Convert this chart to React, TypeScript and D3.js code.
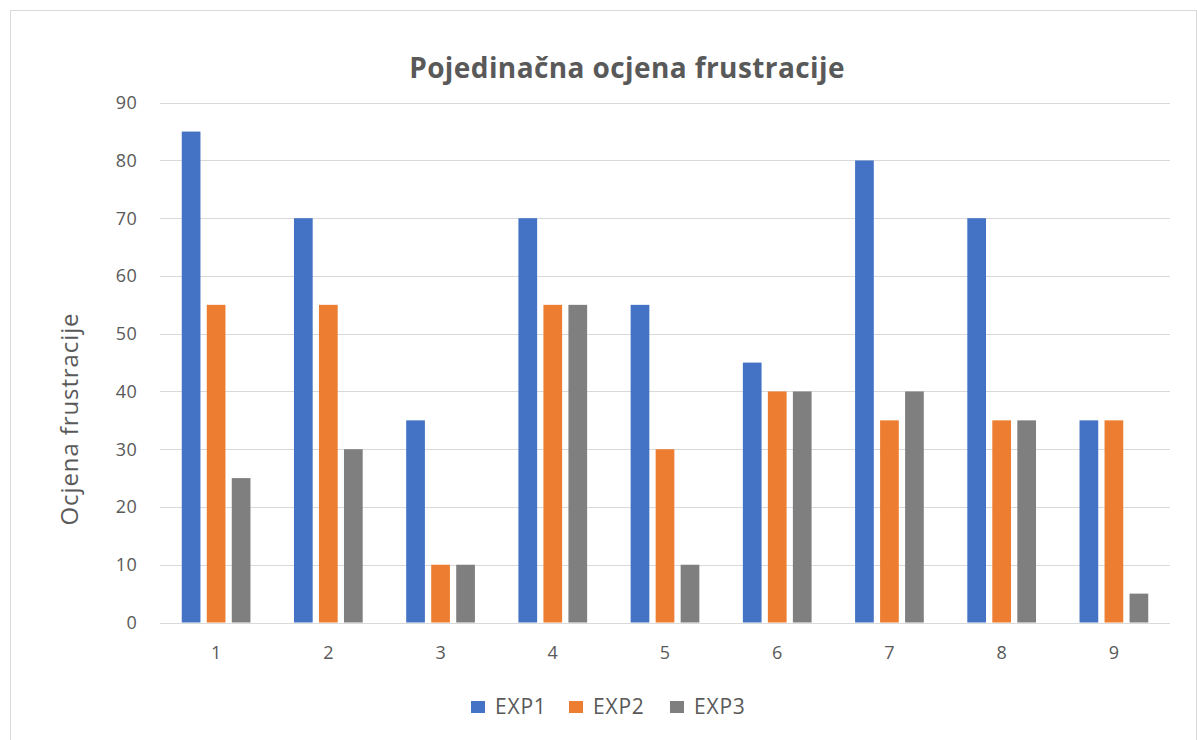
import React from 'react';
import { scaleBand, scaleLinear } from 'd3';

const categories = ['1', '2', '3', '4', '5', '6', '7', '8', '9'];
const seriesNames = ['EXP1', 'EXP2', 'EXP3'];
const exp1 = [85, 70, 35, 70, 55, 45, 80, 70, 35];
const exp2 = [55, 55, 10, 55, 30, 40, 35, 35, 35];
const exp3 = [25, 30, 10, 55, 10, 40, 40, 35, 5];
const yTicks = [0, 10, 20, 30, 40, 50, 60, 70, 80, 90];
const colors = ['#4472C4', '#ED7D31', '#7F7F7F'];

const W = 1197;
const H = 740;
const FONT = '"Open Sans", "Noto Sans", sans-serif';

const App = () => {
  const seriesValues = [exp1, exp2, exp3];

  const xScale = scaleBand().domain(categories).range([160, 1170]).padding(0);
  const inner = scaleBand()
    .domain(seriesNames)
    .range([0, xScale.bandwidth()])
    .paddingInner(0.252)
    .paddingOuter(0.87);
  const yScale = scaleLinear().domain([0, 90]).range([622.5, 102.7]);

  const legendX = [471, 569, 670];

  return (
    <svg
      width={W}
      height={H}
      style={{ position: 'absolute', left: 0, top: 0, background: '#fff' }}
      fontFamily={FONT}
    >
      <rect x={10.5} y={10.5} width={1186} height={740} fill="#fff" stroke="#d9d9d9" />

      <text
        x={627}
        y={78}
        textAnchor="middle"
        fontSize={28}
        letterSpacing={0.4}
        fontWeight="bold"
        fill="#595959"
      >
        Pojedinačna ocjena frustracije
      </text>

      {/* grid + y labels */}
      {yTicks.map((t) => (
        <g key={t}>
          <line
            x1={160}
            x2={1170}
            y1={Math.round(yScale(t)) + 0.5}
            y2={Math.round(yScale(t)) + 0.5}
            stroke="#d9d9d9"
            strokeWidth={1}
          />
          <text
            x={137}
            y={yScale(t)}
            dy="0.35em"
            textAnchor="end"
            fontSize={18}
            letterSpacing={0.3}
            fill="#595959"
          >
            {t}
          </text>
        </g>
      ))}

      {/* bars */}
      {categories.map((c, i) => (
        <g key={c} transform={`translate(${xScale(c)},0)`}>
          {seriesNames.map((s, j) => (
            <rect
              key={s}
              x={inner(s)}
              width={inner.bandwidth()}
              y={yScale(seriesValues[j][i])}
              height={yScale(0) - yScale(seriesValues[j][i])}
              fill={colors[j]}
            />
          ))}
          <text
            x={xScale.bandwidth() / 2}
            y={659}
            textAnchor="middle"
            fontSize={18}
            fill="#595959"
          >
            {c}
          </text>
        </g>
      ))}

      {/* y axis title */}
      <text
        transform="translate(78,419) rotate(-90)"
        textAnchor="middle"
        fontSize={24}
        letterSpacing={0.9}
        fill="#595959"
      >
        Ocjena frustracije
      </text>

      {/* legend */}
      {seriesNames.map((s, j) => (
        <g key={s} transform={`translate(${legendX[j]},701)`}>
          <rect x={0} y={0} width={14} height={12} fill={colors[j]} />
          <text x={24} y={12.5} fontSize={21} letterSpacing={0.8} fill="#595959">
            {s}
          </text>
        </g>
      ))}
    </svg>
  );
};

export default App;
